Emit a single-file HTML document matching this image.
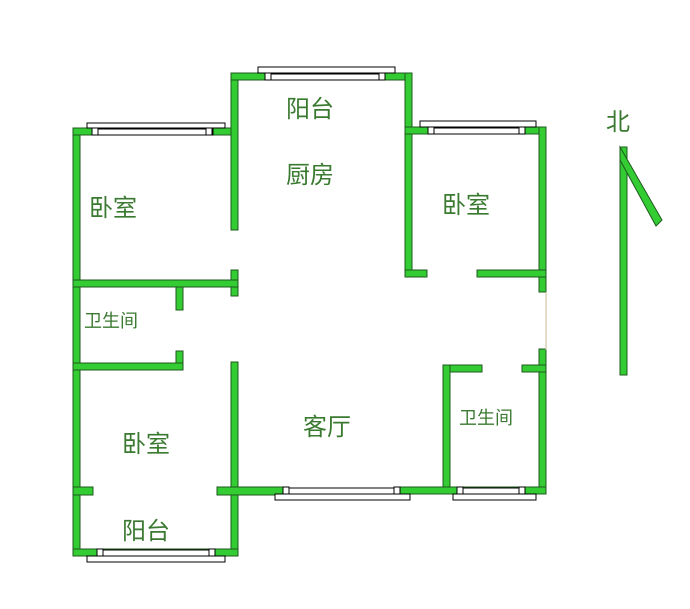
<!DOCTYPE html>
<html><head><meta charset="utf-8"><style>
html,body{margin:0;padding:0;background:#fff;}
svg{display:block;}
text{font-family:"Liberation Sans","Noto Sans CJK SC",sans-serif;fill:#3a7a30;}
</style></head><body>
<svg width="690" height="609" viewBox="0 0 690 609" xmlns="http://www.w3.org/2000/svg">
<g fill="#33cc33" stroke="#1f5a1f" stroke-width="1">
<!-- left outer wall -->
<rect x="73" y="128" width="7" height="428"/>
<!-- top left bedroom -->
<rect x="73" y="128" width="165" height="7"/>
<!-- kitchen left wall -->
<rect x="231" y="73" width="7" height="157"/>
<rect x="231" y="270" width="7" height="26"/>
<rect x="231" y="362" width="7" height="194"/>
<!-- kitchen top -->
<rect x="231" y="73" width="181" height="7"/>
<!-- kitchen right -->
<rect x="405" y="73" width="7" height="204"/>
<!-- horizontal walls left -->
<rect x="73" y="280" width="165" height="7"/>
<rect x="176" y="287" width="7" height="23"/>
<rect x="176" y="351" width="7" height="19"/>
<rect x="73" y="363" width="110" height="7"/>
<!-- lower left -->
<rect x="73" y="487" width="20" height="8"/>
<rect x="217" y="487" width="66" height="8"/>
<rect x="73" y="549" width="165" height="7"/>
<!-- right bedroom -->
<rect x="405" y="127" width="141" height="7"/>
<rect x="539" y="127" width="7" height="165"/>
<rect x="405" y="270" width="22" height="7"/>
<rect x="477" y="270" width="69" height="7"/>
<!-- lower right -->
<rect x="539" y="349" width="7" height="145"/>
<rect x="443" y="365" width="39" height="7"/>
<rect x="522" y="365" width="24" height="7"/>
<rect x="443" y="365" width="7" height="129"/>
<rect x="400" y="487" width="146" height="7"/>
<!-- north arrow -->
<rect x="620" y="147" width="7" height="228"/>
<polygon points="620,147 662,220 656,226 620,160"/>
</g>
<line x1="546" y1="292" x2="546" y2="350" stroke="#c8b890" stroke-width="1"/>
<!-- windows -->
<g fill="#fff" stroke="#000" stroke-width="1">
<rect x="87" y="123" width="138" height="5"/>
<rect x="97" y="129" width="116" height="6"/>
<rect x="258" y="67" width="137" height="6"/>
<rect x="265" y="74" width="120" height="6"/>
<rect x="420" y="121" width="116" height="6"/>
<rect x="428" y="128" width="97" height="6"/>
<rect x="283" y="488" width="117" height="6"/>
<rect x="275" y="494" width="135" height="6"/>
<rect x="463" y="488" width="62" height="6"/>
<rect x="453" y="494" width="83" height="6"/>
<rect x="97" y="550" width="116" height="6"/>
<rect x="87" y="556" width="138" height="6"/>
</g>
<g fill="#fff" stroke="#000" stroke-width="1">
<rect x="265" y="73" width="6" height="7"/><rect x="379" y="73" width="6" height="7"/>
<rect x="92" y="128" width="6" height="7"/><rect x="206" y="128" width="6" height="7"/>
<rect x="428" y="127" width="6" height="7"/><rect x="519" y="127" width="6" height="7"/>
<rect x="283" y="487" width="6" height="7"/><rect x="394" y="487" width="6" height="7"/>
<rect x="457" y="487" width="6" height="7"/><rect x="519" y="487" width="6" height="7"/>
<rect x="97" y="549" width="6" height="7"/><rect x="209" y="549" width="6" height="7"/>
</g>
<g font-size="24">
<text x="286" y="117">阳台</text>
<text x="286" y="183">厨房</text>
<text x="89" y="216">卧室</text>
<text x="442" y="213">卧室</text>
<text x="122" y="452">卧室</text>
<text x="303" y="435">客厅</text>
<text x="122" y="539">阳台</text>
<text x="606" y="130">北</text>
</g>
<g font-size="18">
<text x="84" y="327">卫生间</text>
<text x="459" y="424">卫生间</text>
</g>
</svg>
</body></html>
